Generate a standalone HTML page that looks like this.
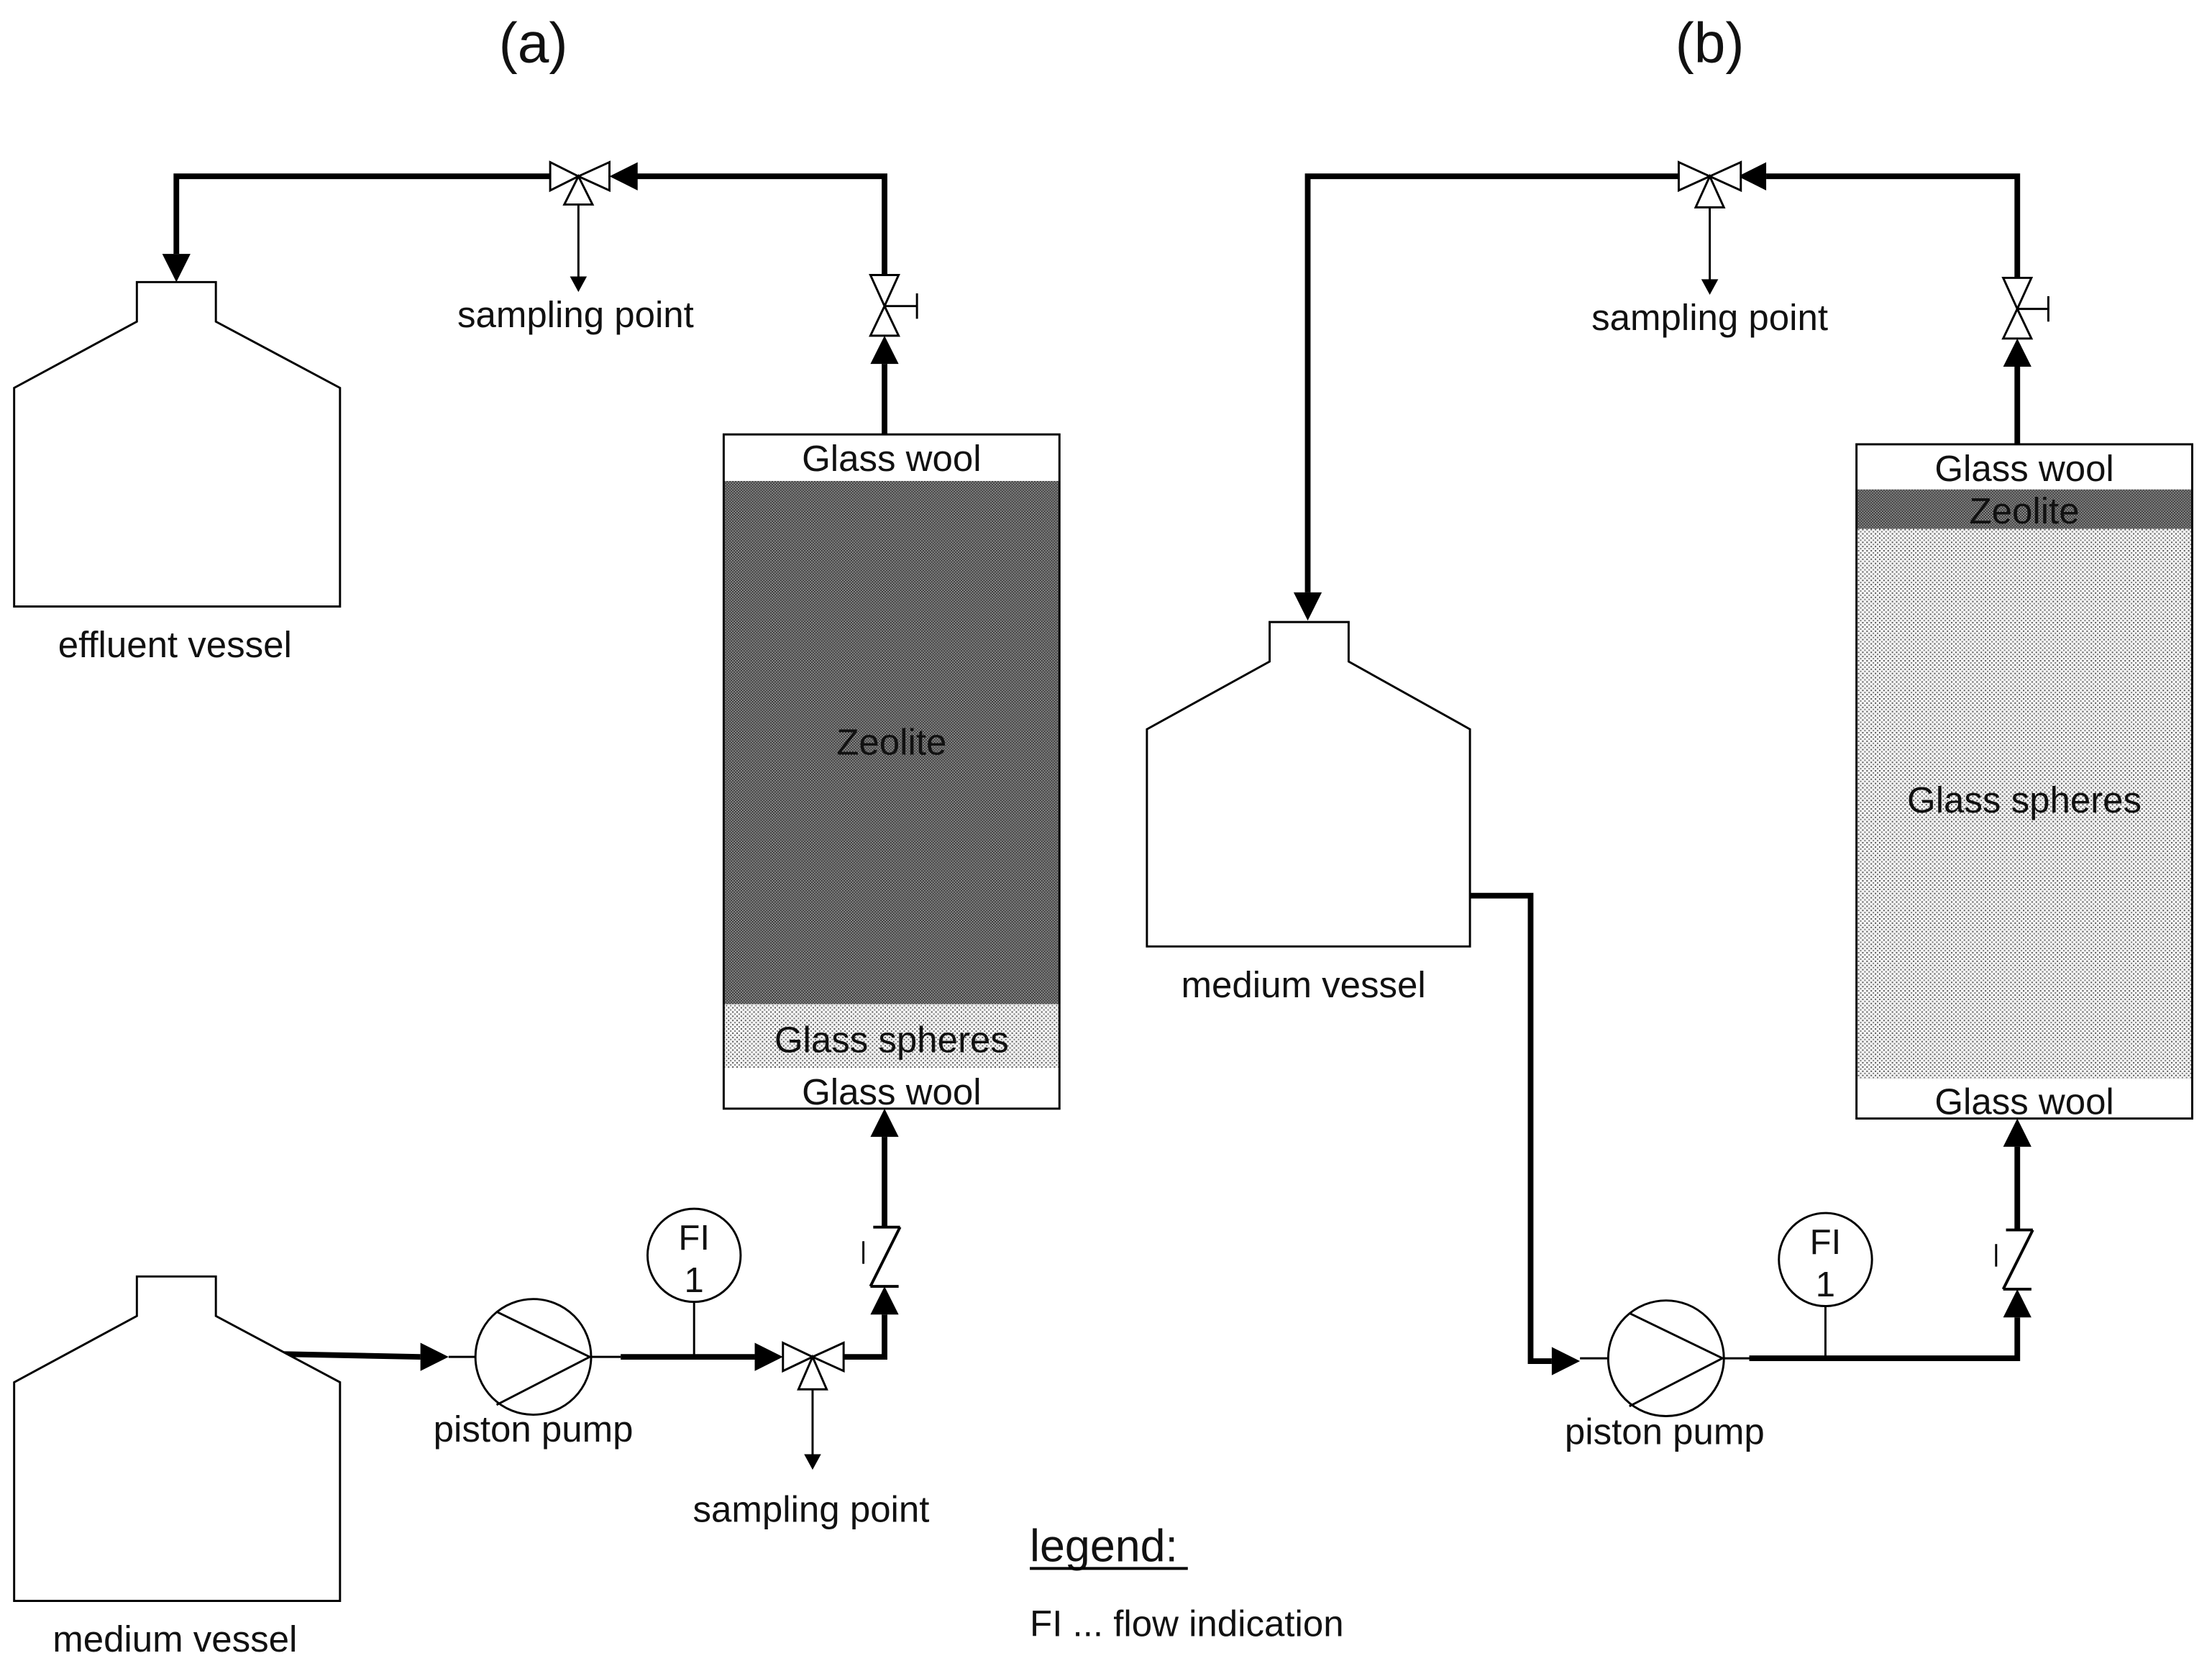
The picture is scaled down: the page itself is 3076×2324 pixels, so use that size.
<!DOCTYPE html>
<html><head><meta charset="utf-8"><style>
html,body{margin:0;padding:0;background:#fff;}
svg{display:block;}
text{font-family:"Liberation Sans",Arial,sans-serif;fill:#111;}
</style></head><body>
<svg width="3076" height="2324" viewBox="0 0 1568 1184.7" xmlns="http://www.w3.org/2000/svg">
<defs>
<pattern id="dark" width="2" height="2" patternUnits="userSpaceOnUse">
<rect width="2" height="2" fill="#8c8c8c"/><rect width="1" height="1" fill="#3a3a3a"/><rect x="1" y="1" width="1" height="1" fill="#3a3a3a"/>
</pattern>
<pattern id="light" width="3" height="3" patternUnits="userSpaceOnUse">
<rect width="3" height="3" fill="#f4f4f4"/><rect width="1" height="1" fill="#555"/><rect x="1.5" y="1.5" width="1" height="1" fill="#777"/>
</pattern>
</defs>
<text x="378" y="44" font-size="40" text-anchor="middle">(a)</text>
<text x="1212" y="44" font-size="40" text-anchor="middle">(b)</text>

<!-- ===== (a) ===== -->
<g stroke="#000" fill="none" stroke-width="4">
<polyline points="390,125 125,125 125,180"/>
<polyline points="450,125 627,125 627,195"/>
<line x1="627" y1="258" x2="627" y2="308"/>
<line x1="627" y1="806" x2="627" y2="870"/>
<polyline points="598,962 627,962 627,932"/>
<line x1="200" y1="960" x2="298" y2="962"/>
<line x1="440" y1="962" x2="535" y2="962"/>
</g>
<g fill="#000">
<path d="M115,180 L135,180 L125,200 Z"/>
<path d="M432,125 L452,115 L452,135 Z"/>
<path d="M617,258 L637,258 L627,238 Z"/>
<path d="M617,806 L637,806 L627,786 Z"/>
<path d="M617,932 L637,932 L627,912 Z"/>
<path d="M298,952 L318,962 L298,972 Z"/>
<path d="M535,952 L555,962 L535,972 Z"/>
</g>
<g stroke="#000" fill="#fff" stroke-width="1.5">
<path d="M390,115 L410,125 L390,135 Z"/><path d="M432,115 L410,125 L432,135 Z"/><path d="M400,145 L410,125 L420,145 Z"/>
<line x1="410" y1="145" x2="410" y2="198"/>
<path d="M617,195 L637,195 L627,217 Z"/><path d="M617,238 L637,238 L627,217 Z"/>
<line x1="627" y1="217" x2="650" y2="217"/><line x1="650" y1="208" x2="650" y2="226"/>
<path d="M555,952 L576,962 L555,972 Z"/><path d="M598,952 L576,962 L598,972 Z"/><path d="M566,985 L576,962 L586,985 Z"/>
<line x1="576" y1="985" x2="576" y2="1033"/>
</g>
<g fill="#000"><path d="M404,196 L416,196 L410,207 Z"/><path d="M570,1031 L582,1031 L576,1042 Z"/></g>
<g stroke="#000" stroke-width="2" fill="none">
<line x1="619" y1="870" x2="638" y2="870"/><line x1="638" y1="870" x2="617" y2="912"/><line x1="617" y1="912" x2="637" y2="912"/>
<line x1="612" y1="880" x2="612" y2="896" stroke-width="1.5"/>
</g>
<path d="M97,200 L153,200 L153,228 L241,275 L241,430 L10,430 L10,275 L97,228 Z" fill="#fff" stroke="#000" stroke-width="1.5"/>
<text x="124" y="466" font-size="26" text-anchor="middle">effluent vessel</text>
<text x="408" y="232" font-size="26" text-anchor="middle">sampling point</text>
<path d="M97,905 L153,905 L153,933 L241,980 L241,1135 L10,1135 L10,980 L97,933 Z" fill="#fff" stroke="#000" stroke-width="1.5"/>
<text x="124" y="1171" font-size="26" text-anchor="middle">medium vessel</text>
<g stroke="#000" stroke-width="1.5" fill="#fff">
<line x1="318" y1="962" x2="440" y2="962"/>
<circle cx="378" cy="962" r="41"/>
<polyline points="352,930 418,962 352,996" fill="none"/>
<line x1="492" y1="923" x2="492" y2="962"/>
<circle cx="492" cy="890" r="33"/>
</g>
<text x="492" y="886" font-size="25" text-anchor="middle">FI</text>
<text x="492" y="916" font-size="25" text-anchor="middle">1</text>
<text x="378" y="1022" font-size="26" text-anchor="middle">piston pump</text>
<text x="575" y="1079" font-size="26" text-anchor="middle">sampling point</text>
<rect x="513" y="341" width="238" height="371" fill="url(#dark)"/>
<rect x="513" y="712" width="238" height="45" fill="url(#light)"/>
<rect x="513" y="308" width="238" height="478" fill="none" stroke="#000" stroke-width="1.5"/>
<text x="632" y="334" font-size="26" text-anchor="middle">Glass wool</text>
<text x="632" y="535" font-size="26" text-anchor="middle">Zeolite</text>
<text x="632" y="746" font-size="26" text-anchor="middle">Glass spheres</text>
<text x="632" y="783" font-size="26" text-anchor="middle">Glass wool</text>

<!-- ===== (b) ===== -->
<g stroke="#000" fill="none" stroke-width="4">
<polyline points="1190,125 927,125 927,420"/>
<polyline points="1252,125 1430,125 1430,197"/>
<line x1="1430" y1="260" x2="1430" y2="315"/>
<line x1="1430" y1="813" x2="1430" y2="872"/>
<polyline points="1240,963 1430,963 1430,934"/>
<polyline points="1042,635 1085,635 1085,965 1100,965"/>
</g>
<g fill="#000">
<path d="M917,420 L937,420 L927,440 Z"/>
<path d="M1232,125 L1252,115 L1252,135 Z"/>
<path d="M1420,260 L1440,260 L1430,240 Z"/>
<path d="M1420,813 L1440,813 L1430,793 Z"/>
<path d="M1420,934 L1440,934 L1430,914 Z"/>
<path d="M1100,955 L1120,965 L1100,975 Z"/>
</g>
<g stroke="#000" fill="#fff" stroke-width="1.5">
<path d="M1190,115 L1212,125 L1190,135 Z"/><path d="M1234,115 L1212,125 L1234,135 Z"/><path d="M1202,147 L1212,125 L1222,147 Z"/>
<line x1="1212" y1="147" x2="1212" y2="200"/>
<path d="M1420,197 L1440,197 L1430,219 Z"/><path d="M1420,240 L1440,240 L1430,219 Z"/>
<line x1="1430" y1="219" x2="1452" y2="219"/><line x1="1452" y1="210" x2="1452" y2="228"/>
</g>
<g fill="#000"><path d="M1206,198 L1218,198 L1212,209 Z"/></g>
<g stroke="#000" stroke-width="2" fill="none">
<line x1="1422" y1="872" x2="1441" y2="872"/><line x1="1441" y1="872" x2="1420" y2="914"/><line x1="1420" y1="914" x2="1440" y2="914"/>
<line x1="1415" y1="882" x2="1415" y2="898" stroke-width="1.5"/>
</g>
<text x="1212" y="234" font-size="26" text-anchor="middle">sampling point</text>
<path d="M900,441 L956,441 L956,469 L1042,517 L1042,671 L813,671 L813,517 L900,469 Z" fill="#fff" stroke="#000" stroke-width="1.5"/>
<text x="924" y="707" font-size="26" text-anchor="middle">medium vessel</text>
<g stroke="#000" stroke-width="1.5" fill="#fff">
<line x1="1120" y1="963" x2="1242" y2="963"/>
<circle cx="1181" cy="963" r="41"/>
<polyline points="1155,931 1221,963 1155,997" fill="none"/>
<line x1="1294" y1="926" x2="1294" y2="963"/>
<circle cx="1294" cy="893" r="33"/>
</g>
<text x="1294" y="889" font-size="25" text-anchor="middle">FI</text>
<text x="1294" y="919" font-size="25" text-anchor="middle">1</text>
<text x="1180" y="1024" font-size="26" text-anchor="middle">piston pump</text>
<rect x="1316" y="347" width="238" height="28" fill="url(#dark)"/>
<rect x="1316" y="375" width="238" height="390" fill="url(#light)"/>
<rect x="1316" y="315" width="238" height="478" fill="none" stroke="#000" stroke-width="1.5"/>
<text x="1435" y="341" font-size="26" text-anchor="middle">Glass wool</text>
<text x="1435" y="371" font-size="26" text-anchor="middle">Zeolite</text>
<text x="1435" y="576" font-size="26" text-anchor="middle">Glass spheres</text>
<text x="1435" y="790" font-size="26" text-anchor="middle">Glass wool</text>

<text x="730" y="1107" font-size="32">legend:</text>
<line x1="730" y1="1112" x2="842" y2="1112" stroke="#000" stroke-width="2"/>
<text x="730" y="1160" font-size="26">FI ... flow indication</text>
</svg>
</body></html>
